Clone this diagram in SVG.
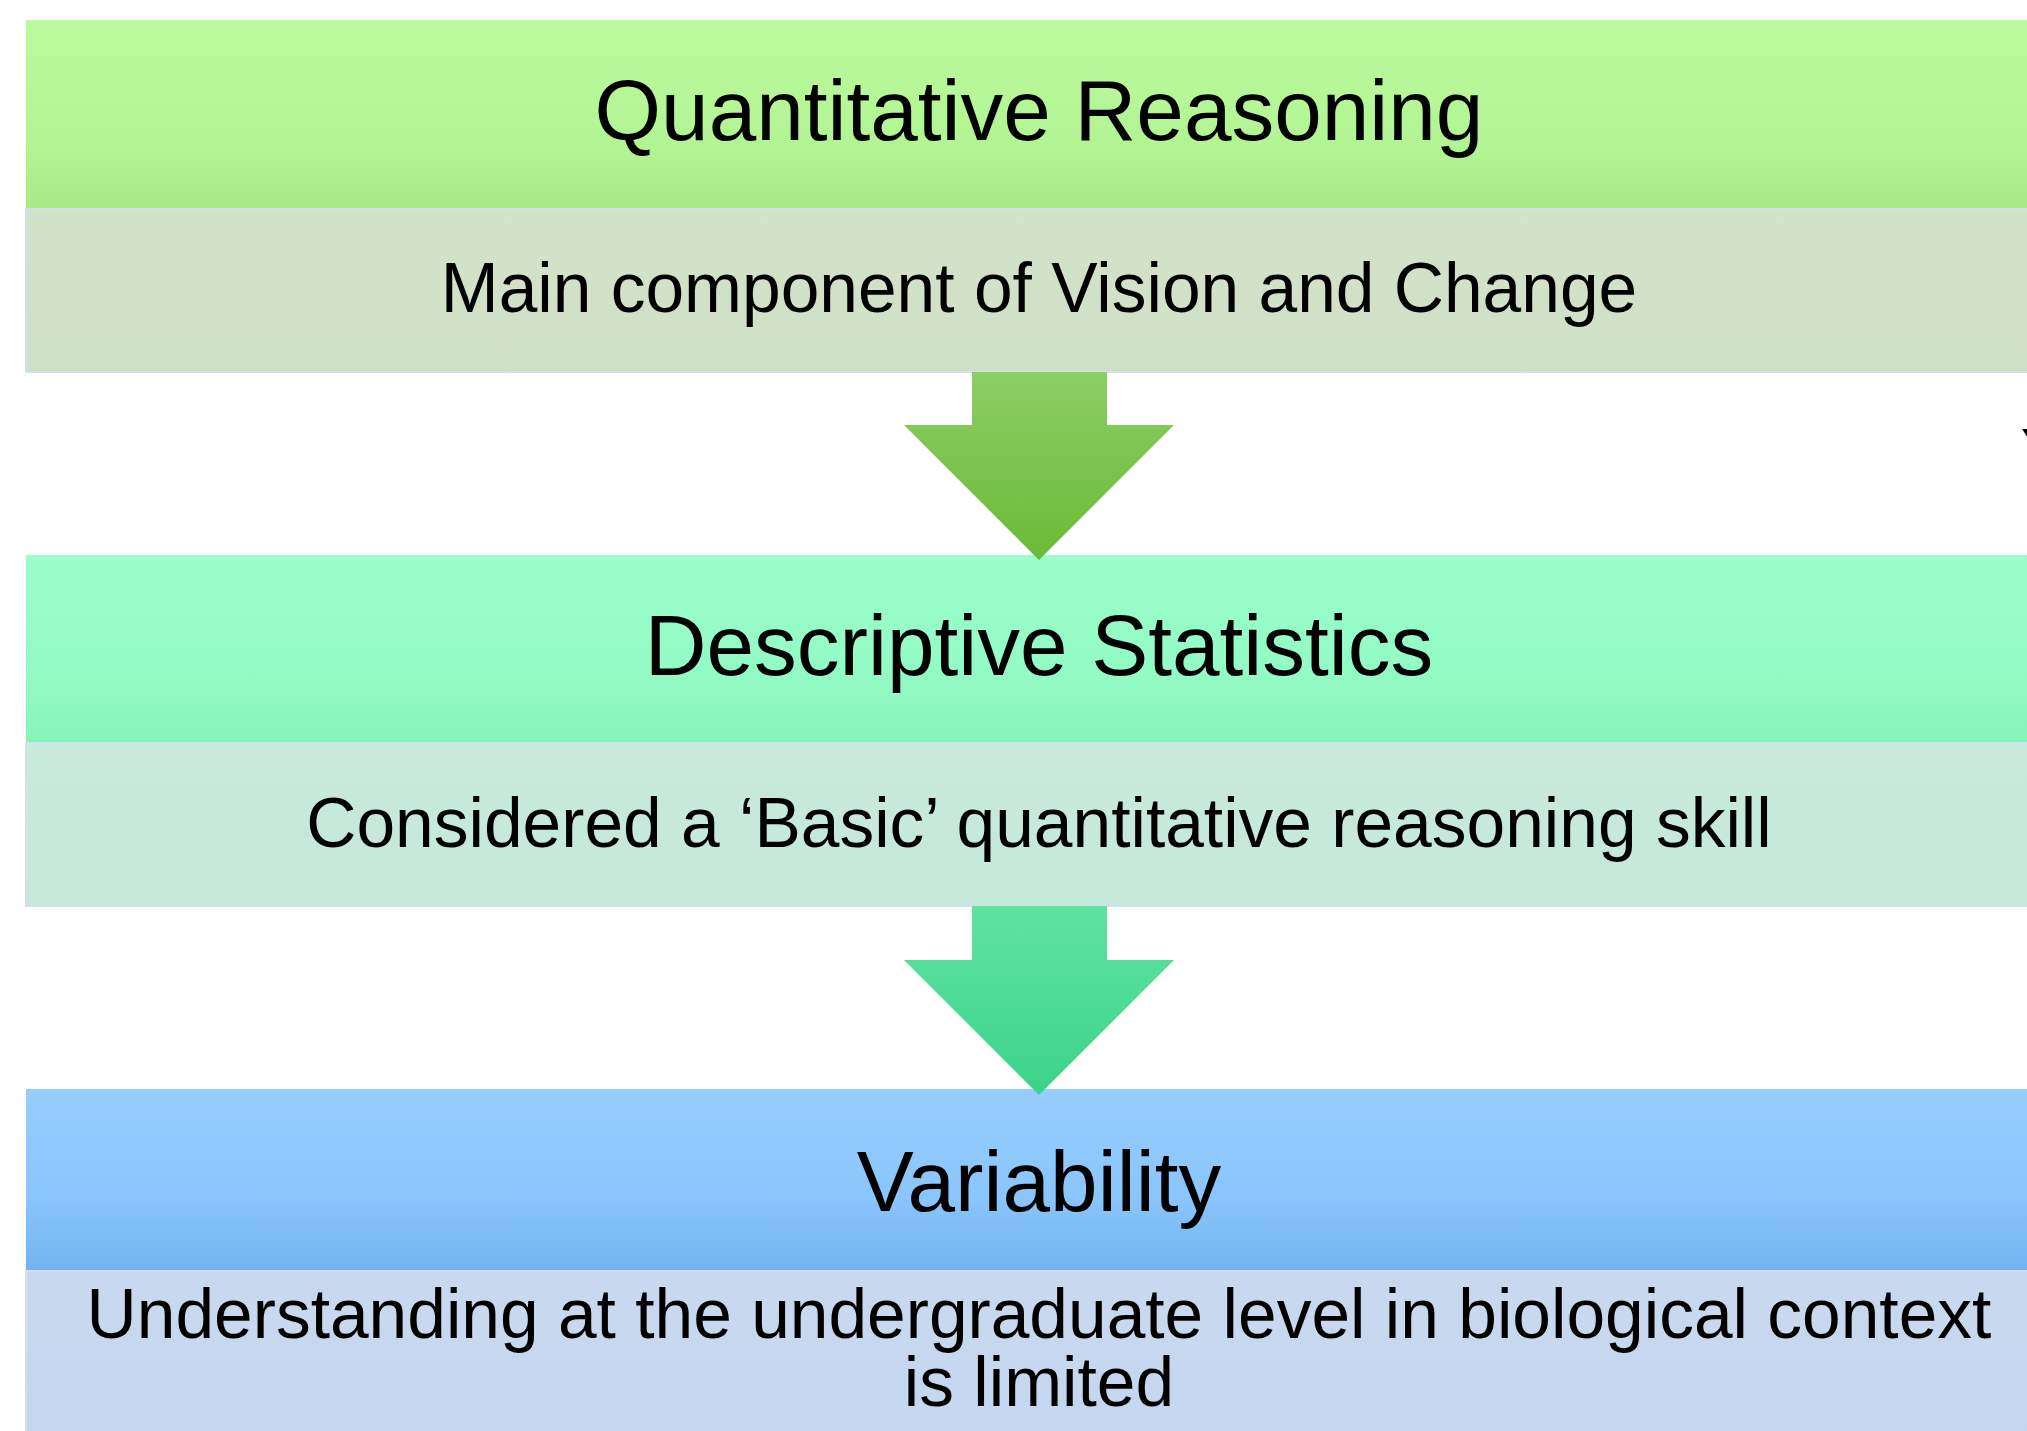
<svg xmlns="http://www.w3.org/2000/svg" width="2027" height="1431" viewBox="0 0 2027 1431">
  <defs>
    <linearGradient id="hdr1" x1="0" y1="0" x2="0" y2="1">
      <stop offset="0" stop-color="#bbfb9e"/>
      <stop offset="0.7" stop-color="#b2f392"/>
      <stop offset="1" stop-color="#a8ea86"/>
    </linearGradient>
    <linearGradient id="hdr2" x1="0" y1="0" x2="0" y2="1">
      <stop offset="0" stop-color="#9bffcc"/>
      <stop offset="0.7" stop-color="#91fac3"/>
      <stop offset="1" stop-color="#85f4b7"/>
    </linearGradient>
    <linearGradient id="hdr3" x1="0" y1="0" x2="0" y2="1">
      <stop offset="0" stop-color="#96cdfe"/>
      <stop offset="0.6" stop-color="#8ac5fb"/>
      <stop offset="1" stop-color="#72b3f1"/>
    </linearGradient>
    <linearGradient id="sub1" x1="0" y1="0" x2="0" y2="1">
      <stop offset="0" stop-color="#d3e3ca"/>
      <stop offset="1" stop-color="#cee0c5"/>
    </linearGradient>
    <linearGradient id="sub2" x1="0" y1="0" x2="0" y2="1">
      <stop offset="0" stop-color="#c9eadc"/>
      <stop offset="1" stop-color="#c4e8da"/>
    </linearGradient>
    <linearGradient id="sub3" x1="0" y1="0" x2="0" y2="1">
      <stop offset="0" stop-color="#c8d9ef"/>
      <stop offset="1" stop-color="#c4d6ee"/>
    </linearGradient>
    <linearGradient id="arr1" x1="0" y1="0" x2="0" y2="1">
      <stop offset="0" stop-color="#8bcf66"/>
      <stop offset="1" stop-color="#6aba36"/>
    </linearGradient>
    <linearGradient id="arr2" x1="0" y1="0" x2="0" y2="1">
      <stop offset="0" stop-color="#5fe3a1"/>
      <stop offset="1" stop-color="#3bd389"/>
    </linearGradient>
  </defs>
  <style>
    text { font-family: "Liberation Sans", Arial, sans-serif; fill: #000; text-anchor: middle; }
    .title { font-size: 85.5px; }
    .body { font-size: 69.5px; }
    .sub { stroke: #d6deee; stroke-width: 2; }
  </style>

  <rect width="2027" height="1431" fill="#ffffff"/>

  <g id="quantitative-reasoning">
    <rect x="26" y="20" width="2030" height="189" fill="url(#hdr1)"/>
    <rect class="sub" x="26" y="209" width="2030" height="163" fill="url(#sub1)"/>
    <text class="title" x="1039" y="140">Quantitative Reasoning</text>
    <text class="body" x="1039" y="312">Main component of Vision and Change</text>
  </g>

  <g id="descriptive-statistics">
    <rect x="26" y="555" width="2030" height="188" fill="url(#hdr2)"/>
    <rect class="sub" x="26" y="743" width="2030" height="163" fill="url(#sub2)"/>
    <text class="title" x="1039" y="675">Descriptive Statistics</text>
    <text class="body" x="1039" y="847">Considered a ‘Basic’ quantitative reasoning skill</text>
  </g>

  <g id="variability">
    <rect x="26" y="1089" width="2030" height="182" fill="url(#hdr3)"/>
    <rect class="sub" x="26" y="1271" width="2030" height="170" fill="url(#sub3)"/>
    <text class="title" x="1039" y="1211">Variability</text>
    <text class="body" x="1039" y="1338">Understanding at the undergraduate level in biological context<tspan x="1039" y="1406">is limited</tspan></text>
  </g>

  <!-- down arrows between the stages, tips resting on the next header -->
  <g id="connectors">
    <polygon points="972,372 1107,372 1107,425 1174,425 1039,560 904,425 972,425" fill="url(#arr1)"/>
    <polygon points="972,906 1107,906 1107,960 1174,960 1039,1095 904,960 972,960" fill="url(#arr2)"/>
  </g>

  <!-- edge of a label running past the right border -->
  <text x="2021" y="464" style="font-size:50px;text-anchor:start">Y</text>
</svg>
